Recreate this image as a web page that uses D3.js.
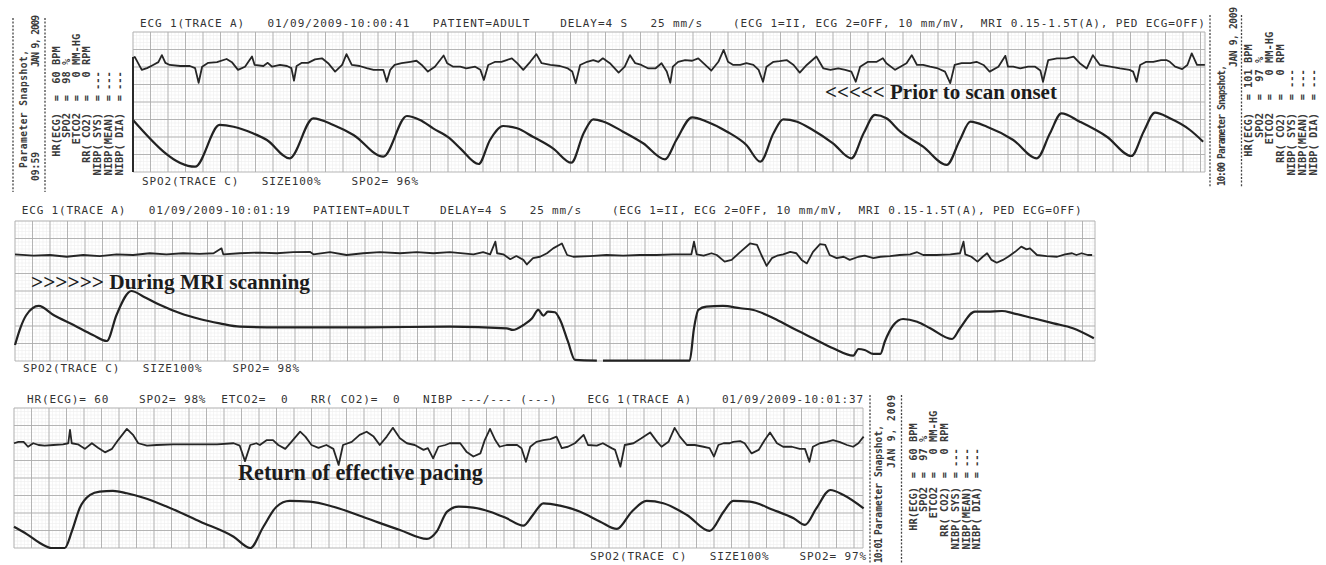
<!DOCTYPE html>
<html>
<head>
<meta charset="utf-8">
<script src="https://cdn.jsdelivr.net/npm/d3@7"></script>
<style>
html, body { margin: 0; padding: 0; background: #fff; }
svg { display: block; }
.mono { font-family: "DejaVu Sans Mono", "Liberation Mono", monospace; fill: #333; white-space: pre; }
.panel .mono { font-weight: bold; fill: #3a3a3a; }
.note { font-family: "Liberation Serif", "Times New Roman", serif; font-weight: bold; font-size: 19px; fill: #1c1c1c; }
</style>
</head>
<body>
<div id="chart"></div>
<script>
// ---- data (time in s, ECG in mV, pleth in % of trace size) ----
var ecg1 = [[0,0.23],[0.02,0.26],[0.10,-0.11],[0.16,-0.06],[0.23,0.03],[0.29,0.11],[0.33,0.31],[0.37,0.09],[0.42,0.03],[0.54,0],[0.65,0],[0.71,-0.06],[0.75,-0.48],[0.79,-0.02],[0.86,0.09],[0.96,0.11],[1.07,0.20],[1.13,0.11],[1.20,-0.11],[1.28,-0.02],[1.36,0.27],[1.39,0.03],[1.49,0],[1.54,0.09],[1.59,-0.02],[1.68,0.03],[1.76,0],[1.81,-0.06],[1.84,-0.42],[1.87,0],[1.93,0.09],[2.00,0.09],[2.08,0.19],[2.16,0.22],[2.23,0.08],[2.31,-0.16],[2.39,0.03],[2.44,0.34],[2.50,0.03],[2.59,0],[2.67,-0.06],[2.75,-0.11],[2.86,-0.11],[2.90,-0.45],[2.94,-0.11],[2.99,0.03],[3.07,0.08],[3.17,0.12],[3.24,0.15],[3.30,0.03],[3.37,-0.16],[3.45,-0.02],[3.55,0.30],[3.59,0.08],[3.66,-0.02],[3.74,-0.02],[3.81,-0.07],[3.91,-0.02],[3.97,-0.11],[4.01,-0.40],[4.06,0.03],[4.14,0.12],[4.21,0.12],[4.27,0.17],[4.33,0.22],[4.39,0.08],[4.46,-0.11],[4.54,0.12],[4.61,0.34],[4.67,0.08],[4.77,0.03],[4.88,0],[4.97,-0.07],[5.02,-0.16],[5.06,-0.49],[5.11,0.03],[5.19,0.12],[5.26,0.17],[5.32,0.12],[5.37,0.22],[5.45,0.08],[5.55,-0.19],[5.62,-0.02],[5.68,0.31],[5.74,0.08],[5.81,0.03],[5.89,-0.07],[5.97,-0.07],[6.04,0.08],[6.10,-0.16],[6.14,-0.48],[6.17,-0.02],[6.23,0.12],[6.31,0.17],[6.39,0.15],[6.46,0.22],[6.54,0.03],[6.61,-0.13],[6.69,0.12],[6.75,0.46],[6.80,0.12],[6.86,0.03],[6.94,0.03],[7.01,0.08],[7.09,0.03],[7.15,-0.11],[7.20,-0.45],[7.24,-0.02],[7.32,0.12],[7.39,0.14],[7.47,0.17],[7.55,0.03],[7.62,-0.19],[7.70,0.03],[7.81,0.27],[7.89,-0.07],[7.97,-0.11],[8.06,-0.07],[8.14,-0.11],[8.21,-0.16],[8.26,-0.45],[8.31,-0.02],[8.40,0.12],[8.50,0.12],[8.57,0.22],[8.61,0.08],[8.71,-0.11],[8.77,-0.02],[8.84,0.08],[8.90,0.31],[8.96,0.03],[9.03,0.03],[9.11,-0.02],[9.20,-0.07],[9.28,-0.16],[9.34,-0.49],[9.39,0.03],[9.47,0.08],[9.57,0.08],[9.64,0.12],[9.72,0.03],[9.79,-0.16],[9.89,-0.02],[9.97,0.29],[10.00,-0.02],[10.06,-0.02],[10.14,-0.07],[10.23,-0.02],[10.31,-0.02],[10.37,-0.13],[10.40,-0.45],[10.46,0.17],[10.56,0.22],[10.67,0.22],[10.75,0.27],[10.82,0.08],[10.90,-0.07],[10.97,0.31],[11.05,0.03],[11.17,-0.02],[11.28,-0.07],[11.39,-0.11],[11.43,-0.16],[11.47,-0.45],[11.51,0.03],[11.58,0.12],[11.66,0.12],[11.75,0.17],[11.81,0.17],[11.85,0.12],[11.91,-0.02],[11.99,-0.09],[12.05,0.03],[12.10,0.36],[12.16,0.03],[12.25,0.03]];
var pleth1 = [[0,65],[0.71,6.6],[0.99,58.8],[1.15,56.6],[1.37,48.4],[1.53,40],[1.79,17.1],[2.06,67.1],[2.29,58.8],[2.52,46.3],[2.86,19.1],[3.13,70],[3.28,65],[3.43,54.6],[3.62,42.1],[3.74,29.6],[3.95,10],[4.08,40],[4.23,57.5],[4.39,54.6],[4.57,44.1],[4.80,29.6],[5.01,11.6],[5.15,48.4],[5.26,65.9],[5.38,62.9],[5.60,50.4],[5.83,35.9],[6.08,15.9],[6.21,40],[6.39,68.4],[6.56,62.9],[6.79,50.4],[7.01,33.8],[7.17,12.9],[7.32,48.4],[7.43,65.9],[7.59,62.9],[7.77,52.5],[8.00,35.9],[8.21,17.1],[8.35,48.4],[8.48,71.3],[8.61,67.1],[8.77,50.4],[9.03,31.6],[9.30,8.8],[9.45,40],[9.57,62.9],[9.76,56.6],[10.06,40],[10.33,17.1],[10.48,48.4],[10.61,73.4],[10.82,62.9],[11.13,44.1],[11.41,20],[11.55,50.4],[11.68,74.1],[11.85,67.1],[12.08,52.5],[12.23,37.9]];

var ecg2 = [[0,0.02],[0.21,-0.02],[0.40,0],[0.59,-0.05],[0.78,0],[0.97,-0.03],[1.16,0.02],[1.35,0],[1.54,0.05],[1.73,0.02],[1.92,0.05],[2.11,0.03],[2.27,0.05],[2.36,0.19],[2.38,0.02],[2.57,0.05],[2.80,0.07],[2.99,0.05],[3.18,0.08],[3.37,0.09],[3.41,0.02],[3.60,0.08],[3.79,0],[3.98,0.05],[4.17,0.08],[4.40,0.05],[4.59,0.08],[4.78,0.05],[4.97,0.08],[5.24,0.02],[5.35,0.08],[5.43,0.02],[5.49,0.38],[5.51,0.05],[5.58,0.02],[5.66,-0.12],[5.73,-0.03],[5.81,-0.14],[5.85,-0.27],[5.92,-0.09],[6.00,-0.05],[6.08,0.05],[6.15,0.19],[6.25,0.33],[6.31,0],[6.38,-0.05],[6.57,-0.03],[6.76,0],[6.95,-0.02],[7.14,0],[7.33,0],[7.52,0.02],[7.73,0.02],[7.76,0.38],[7.79,0.02],[7.87,-0.02],[7.96,0.05],[8.02,0],[8.11,-0.19],[8.19,-0.14],[8.29,0.09],[8.40,0.33],[8.48,0.29],[8.53,0],[8.59,-0.31],[8.65,-0.09],[8.71,-0.02],[8.78,0.02],[8.86,0.09],[8.93,0.05],[8.99,-0.14],[9.05,-0.24],[9.12,0.09],[9.20,0.31],[9.26,0.29],[9.31,0],[9.39,-0.09],[9.47,-0.05],[9.54,-0.14],[9.64,-0.05],[9.71,-0.02],[9.81,-0.09],[9.89,-0.05],[10.00,-0.03],[10.11,0],[10.23,0.02],[10.31,0.08],[10.38,0],[10.53,0],[10.69,0.02],[10.80,0.05],[10.84,0.38],[10.86,0.02],[10.93,-0.05],[11.00,-0.19],[11.06,-0.05],[11.11,0.05],[11.16,-0.14],[11.22,-0.22],[11.29,-0.14],[11.35,-0.05],[11.43,0.09],[11.50,0.24],[11.56,0.16],[11.60,0.19],[11.68,0],[11.79,-0.03],[11.91,-0.05],[12.00,0.02],[12.08,0.05],[12.13,0],[12.19,0.05],[12.26,0],[12.31,0]];
var pleth2 = [[0,20],[0.06,40.9],[0.13,57.5],[0.27,68.8],[0.44,57.5],[0.67,45],[0.89,32.5],[1.05,25],[1.16,57.5],[1.33,87.5],[1.47,80.4],[1.66,70],[1.89,59.6],[2.11,52.5],[2.34,47.1],[2.57,42.9],[2.88,42.1],[3.26,42.1],[4.02,42.1],[4.97,42.9],[5.62,40.9],[5.69,38.8],[5.81,45],[5.91,53.4],[5.98,63.8],[6.04,56.6],[6.09,61.6],[6.17,60.9],[6.23,51.3],[6.32,24.1],[6.40,1.3],[6.65,0.4],[6.68,null],[6.72,0.4],[7.71,0.4],[7.76,40.9],[7.81,63.8],[7.90,67.9],[8.09,68.8],[8.29,65.9],[8.44,63.8],[8.67,53.4],[8.89,40.9],[9.12,28.4],[9.35,15.9],[9.58,6.6],[9.64,15],[9.71,13.8],[9.81,8.8],[9.89,8.8],[9.94,24.1],[10.04,45],[10.15,52.5],[10.31,49.1],[10.46,40.9],[10.71,27.5],[10.80,40.9],[10.97,61.6],[11.11,61.6],[11.28,62.5],[11.41,59.6],[11.64,53.4],[11.87,47.1],[12.09,40.9],[12.33,28.4]];

var ecg3 = [[0,0.05],[0.05,0.09],[0.11,0.09],[0.16,-0.05],[0.22,0.05],[0.28,0],[0.35,-0.02],[0.45,0],[0.56,0.02],[0.62,0.05],[0.64,0.43],[0.66,0.05],[0.73,0.02],[0.81,-0.11],[0.89,0.05],[0.96,-0.08],[1.04,-0.21],[1.12,-0.11],[1.19,0.14],[1.29,0.46],[1.36,0.29],[1.42,0.05],[1.52,-0.02],[1.63,0],[1.82,0.02],[2.13,0.02],[2.32,0.02],[2.51,0.05],[2.58,-0.02],[2.64,-0.46],[2.70,0],[2.77,0.05],[2.81,0],[2.89,0.14],[2.96,0.14],[3.02,0],[3.10,-0.11],[3.17,0.09],[3.27,0.38],[3.33,0.24],[3.40,0],[3.48,-0.08],[3.57,0],[3.65,-0.11],[3.71,-0.57],[3.76,0],[3.86,0.09],[3.95,0.29],[4.03,0.38],[4.11,0.24],[4.18,0],[4.26,0.24],[4.33,0.49],[4.41,0.19],[4.49,0.05],[4.58,0],[4.68,-0.14],[4.73,-0.09],[4.79,-0.38],[4.85,-0.05],[4.93,0],[4.98,0.05],[5.10,0.05],[5.17,-0.19],[5.25,-0.33],[5.33,-0.24],[5.38,0.14],[5.44,0.46],[5.50,0.14],[5.55,-0.05],[5.63,0],[5.75,0],[5.80,-0.09],[5.85,-0.48],[5.90,-0.05],[5.97,0.09],[6.05,0.14],[6.13,0.17],[6.20,0.24],[6.26,-0.09],[6.33,-0.05],[6.41,0.05],[6.51,0.29],[6.56,0],[6.66,-0.02],[6.73,0.05],[6.83,-0.09],[6.87,-0.14],[6.93,-0.62],[6.98,0],[7.08,0.05],[7.17,0.19],[7.27,0.36],[7.35,0.09],[7.40,-0.05],[7.48,0.09],[7.55,0.49],[7.61,0.24],[7.69,0],[7.78,0],[7.88,-0.05],[7.95,-0.09],[8.00,-0.33],[8.05,0],[8.11,0.05],[8.18,0.05],[8.22,0.09],[8.30,0.11],[8.35,0.05],[8.43,-0.24],[8.51,-0.14],[8.58,0.14],[8.64,0.36],[8.72,0.05],[8.79,-0.05],[8.89,-0.05],[8.98,-0.11],[9.04,-0.11],[9.09,-0.48],[9.13,-0.05],[9.21,0.05],[9.29,0.09],[9.36,0.14],[9.44,0.08],[9.52,0],[9.59,-0.05],[9.65,0.05],[9.71,0.24]];
var pleth3 = [[0,26.6],[0.15,17.1],[0.30,5.9],[0.43,0],[0.58,0],[0.66,20.4],[0.75,49.6],[0.87,66.3],[0.98,70.4],[1.13,71.3],[1.29,68.4],[1.48,62.9],[1.75,51.6],[2.13,32.9],[2.51,14.1],[2.70,0],[2.85,26.6],[3.00,51.6],[3.15,58.8],[3.38,57.9],[3.65,51.6],[4.03,37.1],[4.41,22.5],[4.72,11.3],[4.83,20.4],[4.95,45.4],[5.08,51.6],[5.25,50.4],[5.44,45.4],[5.63,37.1],[5.82,27.9],[5.93,41.3],[6.05,55.9],[6.24,52.9],[6.47,45.4],[6.70,32.9],[6.89,23.8],[7.06,45.4],[7.23,58.8],[7.42,55.9],[7.69,41.3],[7.95,21.3],[8.11,45.4],[8.22,58.8],[8.41,57.9],[8.68,47.5],[8.91,37.1],[9.04,28.8],[9.17,49.6],[9.33,72.5],[9.48,66.3],[9.71,49.6]];

var stripHeaders = [
  "ECG 1(TRACE A)   01/09/2009-10:00:41   PATIENT=ADULT    DELAY=4 S   25 mm/s    (ECG 1=II, ECG 2=OFF, 10 mm/mV,  MRI 0.15-1.5T(A), PED ECG=OFF)",
  "ECG 1(TRACE A)   01/09/2009-10:01:19   PATIENT=ADULT    DELAY=4 S   25 mm/s    (ECG 1=II, ECG 2=OFF, 10 mm/mV,  MRI 0.15-1.5T(A), PED ECG=OFF)",
  "HR(ECG)= 60    SPO2= 98%  ETCO2=  0   RR( CO2)=  0   NIBP ---/--- (---)    ECG 1(TRACE A)    01/09/2009-10:01:37"
];
var stripFooters = [
  "SPO2(TRACE C)   SIZE100%    SPO2= 96%",
  "SPO2(TRACE C)   SIZE100%    SPO2= 98%",
  "SPO2(TRACE C)   SIZE100%    SPO2= 97%"
];
var notes = ["<<<<< Prior to scan onset", ">>>>>> During MRI scanning", "Return of effective pacing"];

var snapTimes = ["09:59", "10:00", "10:01"];
var snapDate = "JAN 9, 2009";
var paramLabels = ["HR(ECG)", "SPO2", "ETCO2", "RR( CO2)", "NIBP( SYS)", "NIBP(MEAN)", "NIBP( DIA)"];
var paramUnits = ["BPM", "%", "MM-HG", "RPM", "", "", ""];
var snap0959 = [60, 98, 0, 0, "---", "---", "---"];
var snap1000 = [101, 97, 0, 0, "---", "---", "---"];
var snap1001 = [60, 97, 0, 0, "---", "---", "---"];

// ---- layout ----
var W = 1326, H = 565;
var BOX = 17.5;            // one big box = 0.2 s = 0.5 mV
var PX_PER_S = BOX * 5;

var strips = [
  {ecg: ecg1, pleth: pleth1, left: 133, right: 1205, top: 32, base: 66,
   head: {x: 140, y: 26.5, w: 1065}, foot: {x: 142, y: 185, w: 276}},
  {ecg: ecg2, pleth: pleth2, left: 15, right: 1095, top: 221, base: 255,
   head: {x: 21.7, y: 213.5, w: 1060}, foot: {x: 23, y: 372, w: 276}},
  {ecg: ecg3, pleth: pleth3, left: 14, right: 863, top: 408, base: 445,
   head: {x: 27, y: 403, w: 836}, foot: {x: 590, y: 560, w: 276}}
];

var panels = [
  {snap: snap0959, time: snapTimes[0], dash: [13, 45], d0: 18, d1: 192,
   title: {x: 23.5, y0: 168, y1: 50}, date: {x: 35.5, y0: 67, y1: 15}, clock: {x: 35.5, y0: 181, y1: 152},
   cols: [56.7, 66.5, 76.5, 86.5, 97, 108, 119], labEnd: 113, eq: 98, val: 90},
  {snap: snap1000, time: snapTimes[1], dash: [1210, 1241.5], d0: 15, d1: 187,
   title: {x: 1222, y0: 159, y1: 65}, date: {x: 1234, y0: 67, y1: 7}, clock: {x: 1222, y0: 186, y1: 162},
   cols: [1248.3, 1259, 1269.5, 1280, 1291, 1302, 1313], labEnd: 113, eq: 97, val: 88},
  {snap: snap1001, time: snapTimes[2], dash: [870, 901.5], d0: 395, d1: 563,
   title: {x: 879, y0: 535, y1: 425}, date: {x: 891.5, y0: 468, y1: 395}, clock: {x: 879, y0: 563, y1: 538},
   cols: [913, 923.3, 933.5, 944.5, 955, 966, 976.7], labEnd: 487, eq: 475, val: 467}
];

var noteLayout = [{x: 825, y: 99, w: 232}, {x: 31, y: 289, w: 279}, {x: 238, y: 480, w: 245}];

var svg = d3.select("#chart").append("svg")
  .attr("width", W)
  .attr("height", H);

svg.append("rect").attr("width", W).attr("height", H).attr("fill", "#fff");

strips.forEach(function(s, i){
  var dur = (s.right - s.left) / PX_PER_S;
  var bottom = s.top + 8 * BOX;
  var x = d3.scaleLinear().domain([0, dur]).range([s.left, s.right]);
  var yEcg = d3.scaleLinear().domain([-1, 1]).range([s.base + 2 * BOX, s.base - 2 * BOX]);
  var yPl = d3.scaleLinear().domain([0, 100]).range([bottom, bottom - 80]);

  var g = svg.append("g").attr("class", "strip");

  // paper grid: fine 1 mm lines, then the 5 mm boxes
  g.selectAll(".vmin").data(d3.range(0, dur, 0.04)).enter().append("line")
    .attr("x1", function(d){ return x(d); }).attr("x2", function(d){ return x(d); })
    .attr("y1", s.top).attr("y2", bottom)
    .attr("stroke", "#eeeeee").attr("stroke-width", 0.6);
  g.selectAll(".hmin").data(d3.range(0, 8 * BOX, BOX / 5)).enter().append("line")
    .attr("x1", s.left).attr("x2", s.right)
    .attr("y1", function(d){ return s.top + d; }).attr("y2", function(d){ return s.top + d; })
    .attr("stroke", "#eeeeee").attr("stroke-width", 0.6);
  g.selectAll(".vmaj").data(d3.range(0, dur, 0.2).concat([dur])).enter().append("line")
    .attr("x1", function(d){ return x(d); }).attr("x2", function(d){ return x(d); })
    .attr("y1", s.top).attr("y2", bottom)
    .attr("stroke", "#adadad").attr("stroke-width", 0.9);
  g.selectAll(".hmaj").data(d3.range(0, 9)).enter().append("line")
    .attr("x1", s.left).attr("x2", s.right)
    .attr("y1", function(d){ return s.top + d * BOX; }).attr("y2", function(d){ return s.top + d * BOX; })
    .attr("stroke", "#adadad").attr("stroke-width", 0.9);

  var ecgLine = d3.line()
    .x(function(d){ return x(d[0]); })
    .y(function(d){ return yEcg(d[1]); });
  var plLine = d3.line()
    .defined(function(d){ return d[1] != null; })
    .curve(d3.curveMonotoneX)
    .x(function(d){ return x(d[0]); })
    .y(function(d){ return yPl(d[1]); });

  g.append("path").datum(s.ecg).attr("d", ecgLine)
    .attr("fill", "none").attr("stroke", "#262626").attr("stroke-width", 1.8)
    .attr("stroke-linejoin", "round");
  g.append("path").datum(s.pleth).attr("d", plLine)
    .attr("fill", "none").attr("stroke", "#222").attr("stroke-width", 2.2)
    .attr("stroke-linejoin", "round");

  // pen start mark on the first strip
  if (i === 0) {
    g.append("line").attr("x1", x(0)).attr("x2", x(0))
      .attr("y1", yEcg(0.26)).attr("y2", bottom)
      .attr("stroke", "#2a2a2a").attr("stroke-width", 2);
  }

  g.append("text").attr("class", "mono")
    .attr("x", s.head.x).attr("y", s.head.y)
    .attr("xml:space", "preserve")
    .attr("textLength", s.head.w).attr("lengthAdjust", "spacing")
    .style("font-size", "11px")
    .text(stripHeaders[i]);
  g.append("text").attr("class", "mono")
    .attr("x", s.foot.x).attr("y", s.foot.y)
    .attr("xml:space", "preserve")
    .attr("textLength", s.foot.w).attr("lengthAdjust", "spacing")
    .style("font-size", "11px")
    .text(stripFooters[i]);
});

// rotated parameter snapshot panels
function vtext(parent, str, cx, y, anchor, size, len){
  var t = parent.append("text").attr("class", "mono")
    .attr("transform", "translate(" + cx + "," + y + ") rotate(-90)")
    .attr("dy", "0.36em")
    .attr("xml:space", "preserve")
    .attr("text-anchor", anchor)
    .style("font-size", size + "px")
    .text(str);
  if (len) t.attr("textLength", len).attr("lengthAdjust", "spacing");
  return t;
}

panels.forEach(function(p){
  var g = svg.append("g").attr("class", "panel");
  g.selectAll(".dash").data(p.dash).enter().append("line")
    .attr("x1", function(d){ return d; }).attr("x2", function(d){ return d; })
    .attr("y1", p.d0).attr("y2", p.d1)
    .attr("stroke", "#444").attr("stroke-width", 1.3)
    .attr("stroke-dasharray", "2,1.6");

  vtext(g, "Parameter Snapshot,", p.title.x, p.title.y0, "start", 9.6, p.title.y0 - p.title.y1);
  vtext(g, snapDate, p.date.x, p.date.y0, "start", 9.6, p.date.y0 - p.date.y1);
  vtext(g, p.time, p.clock.x, p.clock.y0, "start", 9.6, p.clock.y0 - p.clock.y1);

  paramLabels.forEach(function(lab, k){
    var v = p.snap[k];
    var valStr = typeof v === "number" ? (String(v).padStart(3, " ") + " " + paramUnits[k]) : v;
    vtext(g, lab, p.cols[k], p.labEnd, "end", 10.4);
    vtext(g, "=", p.cols[k], p.eq, "middle", 10.4);
    vtext(g, valStr, p.cols[k], p.val, "start", 10.4);
  });
});

// annotations, sized to the width they take on the reference
notes.forEach(function(s, i){
  var n = noteLayout[i];
  var t = svg.append("text").attr("class", "note")
    .attr("x", n.x).attr("y", n.y)
    .text(s);
  var w = t.node().getComputedTextLength();
  if (w > 0) t.style("font-size", (19 * n.w / w).toFixed(2) + "px");
});
</script>
</body>
</html>
